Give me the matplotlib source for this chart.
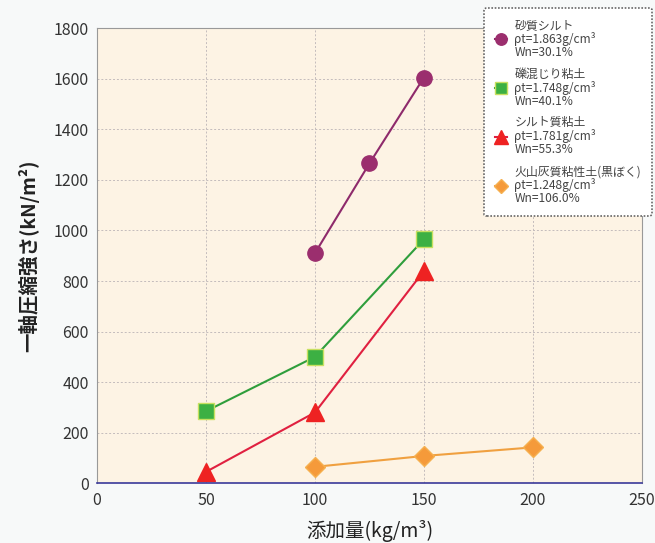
import matplotlib
matplotlib.use("Agg")
import matplotlib.pyplot as plt

plt.rcParams['font.family'] = ['Noto Sans CJK JP', 'DejaVu Sans']

# 添加量 (kg/m3) and strength (kN/m2) for each soil
x_silt = [100, 125, 150]
y_silt = [910, 1265, 1605]
x_gravel = [50, 100, 150]
y_gravel = [285, 500, 965]
x_clay = [50, 100, 150]
y_clay = [45, 280, 840]
x_ash = [100, 150, 200]
y_ash = [65, 108, 142]

labels = [
    "砂質シルト\nρt=1.863g/cm³\nWn=30.1%",
    "礫混じり粘土\nρt=1.748g/cm³\nWn=40.1%",
    "シルト質粘土\nρt=1.781g/cm³\nWn=55.3%",
    "火山灰質粘性土(黒ぼく)\nρt=1.248g/cm³\nWn=106.0%",
]
xticks = [0, 50, 100, 150, 200, 250]
yticks = [0, 200, 400, 600, 800, 1000, 1200, 1400, 1600, 1800]

fig = plt.figure(figsize=(6.55, 5.43), dpi=100)
fig.patch.set_facecolor("#f7f9f9")
ax = fig.add_axes([0.148, 0.110, 0.832, 0.838])
ax.set_facecolor("#fdf3e4")

ax.plot(x_silt, y_silt, color="#8e2a6b", lw=1.5, marker="o", ms=11,
        mfc="#9b2e6e", mec="#9b2e6e", label=labels[0])
ax.plot(x_gravel, y_gravel, color="#2f9e3c", lw=1.5, marker="s", ms=11,
        mfc="#3cb043", mec="#c8e060", label=labels[1])
ax.plot(x_clay, y_clay, color="#e02040", lw=1.5, marker="^", ms=13,
        mfc="#ee2222", mec="#ee2222", label=labels[2])
ax.plot(x_ash, y_ash, color="#f0a040", lw=1.5, marker="D", ms=10,
        mfc="#f59a3a", mec="#f5b050", label=labels[3])

ax.set_xlim(0, 250)
ax.set_ylim(0, 1800)
ax.set_xticks(xticks)
ax.set_yticks(yticks)
ax.tick_params(labelsize=11.5, length=0, pad=6, colors="#333333")
ax.grid(True, color="#c4bcbc", lw=0.7, ls=(0, (2, 2)))
for s in ax.spines.values():
    s.set_color("#999999")
    s.set_linewidth(0.8)
ax.spines["bottom"].set_color("#3a3a9a")
ax.spines["bottom"].set_linewidth(1.2)

ax.set_xlabel("添加量(kg/m³)", fontsize=14, color="#222222", labelpad=8)
ax.set_ylabel("一軸圧縮強さ(kN/m²)", fontsize=14, fontweight="bold",
              color="#222222", labelpad=10)

leg = ax.legend(loc="upper left", bbox_to_anchor=(0.700, 1.058), fontsize=8.6,
                frameon=True, fancybox=True, framealpha=1, facecolor="white",
                edgecolor="#666666", handlelength=1.0, handletextpad=0.6,
                labelspacing=0.75, markerscale=0.75, borderpad=0.9)
leg.get_frame().set_linestyle((0, (1, 1)))
leg.get_frame().set_linewidth(1.2)
for t in leg.get_texts():
    t.set_color("#444444")
    t.set_linespacing(1.0)

fig.savefig("out.png", dpi=100)
